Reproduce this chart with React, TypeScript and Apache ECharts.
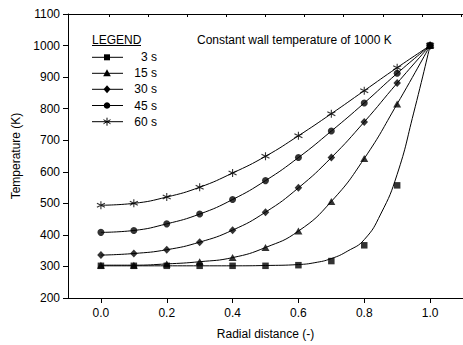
import React, { useEffect, useRef } from "react";
import * as echarts from "echarts";

const radial = [0, 0.1, 0.2, 0.3, 0.4, 0.5, 0.6, 0.7, 0.8, 0.9, 1.0];
const t3 = [302, 302, 302, 302, 302, 302, 304, 317, 367, 557, 1000];
const t15 = [304, 304, 308, 315, 328, 360, 412, 506, 642, 815, 1000];
const t30 = [336, 341, 353, 377, 415, 472, 549, 645, 758, 881, 1000];
const t45 = [408, 414, 435, 466, 512, 572, 645, 729, 818, 912, 1000];
const t60 = [494, 500, 520, 551, 596, 649, 714, 784, 857, 930, 1000];
const curve3X = [0, 0.2, 0.4, 0.5, 0.6, 0.65, 0.7, 0.75, 0.8, 0.85, 0.9, 0.95, 1.0];
const curve3T = [302, 302, 302, 303, 306, 312, 325, 349, 385, 466, 592, 786, 1000];
const xTicks = [0, 0.2, 0.4, 0.6, 0.8, 1.0];
const topTicks = [0, 1, 2, 3, 4, 5, 6, 7, 8, 9];
const legendNames = ["3 s", "15 s", "30 s", "45 s", "60 s"];

const FONT = "'Liberation Sans', Arial, sans-serif";
const ASTERISK = "path://M5 0L5 10M0.7 2.5L9.3 7.5M9.3 2.5L0.7 7.5";

const pairs = (xs: number[], ys: number[]) => xs.map((x, i) => [x, ys[i]]);

export default function App() {
  const ref = useRef<HTMLDivElement>(null);
  useEffect(() => {
    if (!ref.current) return;
    const chart = echarts.init(ref.current, null, { renderer: "svg" });
    const black = "#000";
    const lineSeries = (data: number[][]) => ({
      type: "line",
      data,
      xAxisIndex: 0,
      symbol: "none",
      smooth: 0.5,
      lineStyle: { color: black, width: 1 },
      z: 2,
    });
    const markerSeries = (ys: number[], symbol: string, size: number | number[], stroke = false) => ({
      type: "scatter",
      data: pairs(radial, ys),
      xAxisIndex: 0,
      symbol,
      symbolSize: size,
      itemStyle: stroke
        ? { color: "rgba(0,0,0,0)", borderColor: black, borderWidth: 1.1 }
        : { color: black },
      z: 3,
    });

    const rows = [57.3, 73.3, 89.3, 105.5, 121.7];
    const mx = 107;
    const legendGraphics: any[] = [];
    legendGraphics.push({
      type: "text",
      left: 92,
      top: 34,
      style: { text: "LEGEND", font: `12px ${FONT}`, fill: black },
    });
    legendGraphics.push({
      type: "line",
      shape: { x1: 92, y1: 45.5, x2: 141, y2: 45.5 },
      style: { stroke: black, lineWidth: 1 },
    });
    rows.forEach((y, i) => {
      legendGraphics.push({
        type: "line",
        shape: { x1: 92, y1: y, x2: 123, y2: y },
        style: { stroke: black, lineWidth: 1 },
      });
      legendGraphics.push({
        type: "text",
        x: 157,
        y: y,
        style: {
          text: legendNames[i],
          font: `12px ${FONT}`,
          fill: black,
          align: "right",
          verticalAlign: "middle",
        },
      });
      let m: any;
      if (i === 0) m = { type: "rect", shape: { x: mx - 3, y: y - 3, width: 6, height: 6 }, style: { fill: black } };
      if (i === 1)
        m = { type: "polygon", shape: { points: [[mx, y - 4], [mx + 3.8, y + 3], [mx - 3.8, y + 3]] }, style: { fill: black } };
      if (i === 2)
        m = { type: "polygon", shape: { points: [[mx, y - 4], [mx + 3.5, y], [mx, y + 4], [mx - 3.5, y]] }, style: { fill: black } };
      if (i === 3) m = { type: "circle", shape: { cx: mx, cy: y, r: 3.3 }, style: { fill: black } };
      if (i === 4) {
        legendGraphics.push(
          { type: "line", shape: { x1: mx, y1: y - 4, x2: mx, y2: y + 4 }, style: { stroke: black, lineWidth: 1 } },
          { type: "line", shape: { x1: mx - 3.5, y1: y - 2, x2: mx + 3.5, y2: y + 2 }, style: { stroke: black, lineWidth: 1 } },
          { type: "line", shape: { x1: mx - 3.5, y1: y + 2, x2: mx + 3.5, y2: y - 2 }, style: { stroke: black, lineWidth: 1 } }
        );
      } else legendGraphics.push(m);
    });
    legendGraphics.push({
      type: "text",
      left: 197,
      top: 34,
      style: { text: "Constant wall temperature of 1000 K", font: `12px ${FONT}`, fill: black },
    });

    chart.setOption({
      animation: false,
      backgroundColor: "#fff",
      textStyle: { fontFamily: FONT },
      grid: { left: 68, top: 14, bottom: 43, right: -9 },
      xAxis: [
        {
          type: "value",
          min: -0.1,
          max: 1.1,
          name: "Radial distance (-)",
          nameLocation: "middle",
          nameGap: 30,
          nameTextStyle: { fontSize: 12, color: black, fontFamily: FONT },
          axisLine: { show: true, onZero: false, lineStyle: { color: black, width: 1 } },
          axisTick: { show: true, inside: false, length: 5, customValues: xTicks, lineStyle: { color: black } },
          axisLabel: {
            show: true,
            margin: 9,
            fontSize: 12,
            color: black,
            fontFamily: FONT,
            customValues: xTicks,
            formatter: (v: number) => v.toFixed(1),
          },
          splitLine: { show: false },
        },
        {
          type: "value",
          position: "top",
          min: -1.05,
          max: 9.05,
          axisLine: { show: true, onZero: false, lineStyle: { color: black, width: 1 } },
          axisTick: { show: true, inside: true, length: 3, customValues: topTicks, lineStyle: { color: black } },
          axisLabel: { show: false },
          splitLine: { show: false },
        },
      ],
      yAxis: {
        type: "value",
        min: 200,
        max: 1100,
        interval: 100,
        name: "Temperature (K)",
        nameLocation: "middle",
        nameGap: 37,
        nameTextStyle: { fontSize: 12, color: black, fontFamily: FONT },
        axisLine: { show: true, onZero: false, lineStyle: { color: black, width: 1 } },
        axisTick: { show: true, inside: false, length: 5, lineStyle: { color: black } },
        axisLabel: { margin: 8, fontSize: 12, color: black, fontFamily: FONT, formatter: (v: number) => String(v) },
        splitLine: { show: false },
      },
      series: [
        lineSeries(pairs(curve3X, curve3T)),
        lineSeries(pairs(radial, t15)),
        lineSeries(pairs(radial, t30)),
        lineSeries(pairs(radial, t45)),
        lineSeries(pairs(radial, t60)),
        markerSeries(t3, "rect", 6.5),
        markerSeries(t15, "triangle", [8, 7]),
        markerSeries(t30, "diamond", [7.5, 8]),
        markerSeries(t45, "circle", 7),
        markerSeries(t60, ASTERISK, 8, true),
      ],
      graphic: legendGraphics,
    });
    return () => chart.dispose();
  }, []);
  return (
    <div
      ref={ref}
      style={{ position: "fixed", left: 0, top: 0, width: 463, height: 345, background: "#fff" }}
    />
  );
}
